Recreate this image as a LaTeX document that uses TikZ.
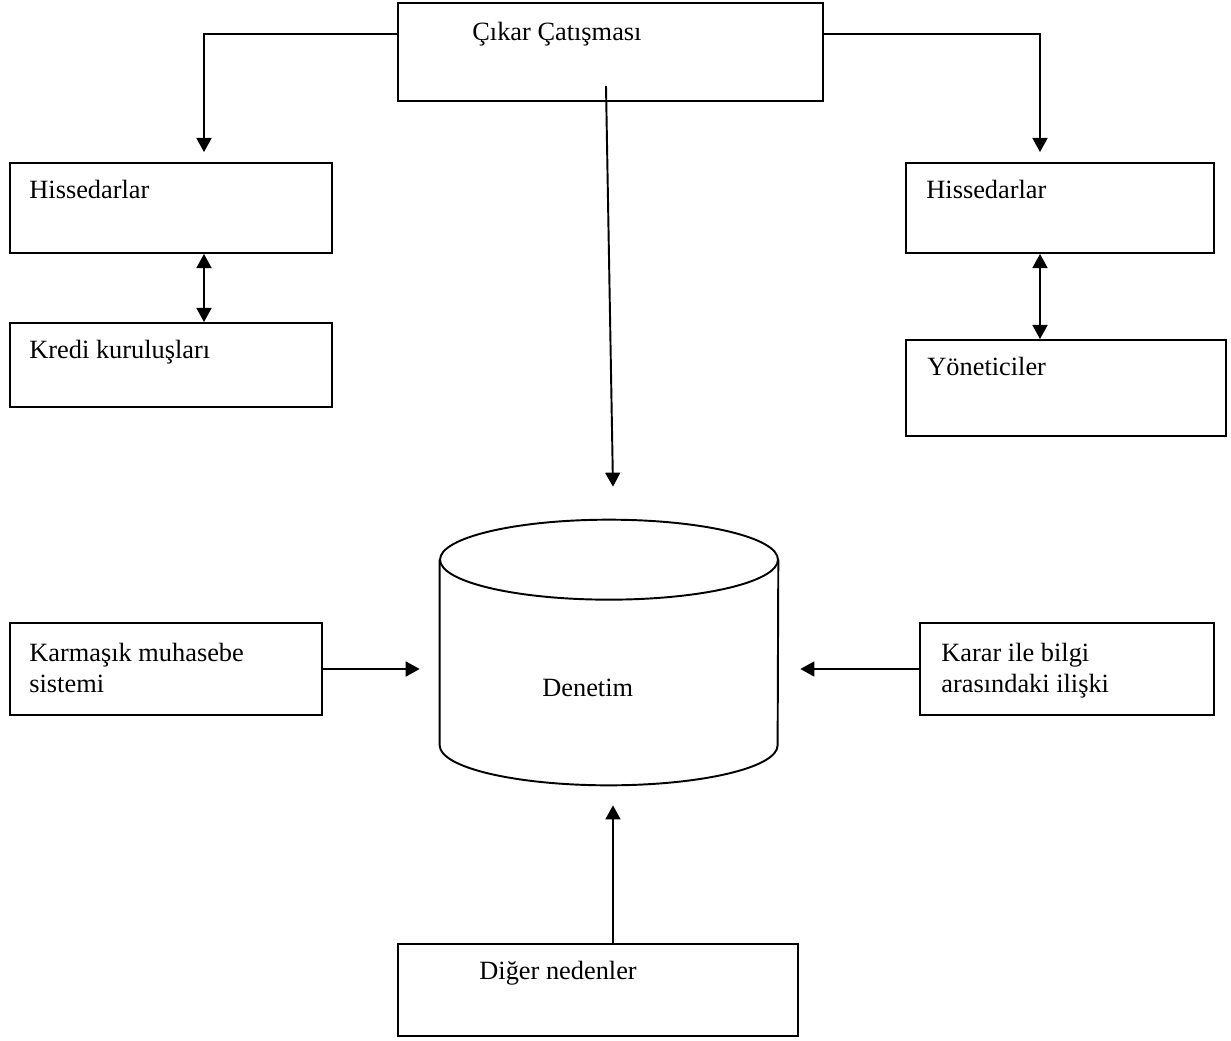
\documentclass[tikz,border=0pt]{standalone}
\usepackage{fontspec}
\setmainfont{Liberation Serif}
\usetikzlibrary{arrows.meta,calc}

\begin{document}
\begin{tikzpicture}[x=0.02cm, y=-0.02cm,
    box/.style={draw, line width=1.1pt, inner sep=0pt},
    txt/.style={anchor=north west, inner sep=0pt, align=left, font=\fontsize{15}{17.6}\selectfont},
    arr/.style={line width=1.1pt, -{Triangle[length=8pt,width=8.5pt]}},
    darr/.style={line width=1.1pt, {Triangle[length=8pt,width=8.5pt]}-{Triangle[length=8pt,width=8.5pt]}}]
    \useasboundingbox (0,0) rectangle (1231,1041);

    % boxes
    \node[box, minimum width=8.5cm, minimum height=1.96cm] (conf) at (610.5,52) {};
    \node[box, minimum width=6.44cm, minimum height=1.8cm] (hisL) at (171,208) {};
    \node[box, minimum width=6.44cm, minimum height=1.68cm] (kredi) at (171,365) {};
    \node[box, minimum width=6.16cm, minimum height=1.8cm] (hisR) at (1060,208) {};
    \node[box, minimum width=6.4cm, minimum height=1.92cm] (yon) at (1066,388) {};
    \node[box, minimum width=6.24cm, minimum height=1.84cm] (muh) at (166,669) {};
    \node[box, minimum width=5.88cm, minimum height=1.84cm] (karar) at (1067,669) {};
    \node[box, minimum width=8cm, minimum height=1.84cm] (diger) at (598,990) {};

    % texts
    \node[txt] (confT) at ([xshift=1.5cm, yshift=-0.4cm]conf.north west) {Çıkar Çatışması};
    \node[txt] (hisLT) at ([xshift=0.4cm, yshift=-0.36cm]hisL.north west) {Hissedarlar};
    \node[txt] (krediT) at ([xshift=0.4cm, yshift=-0.36cm]kredi.north west) {Kredi kuruluşları};
    \node[txt] (hisRT) at ([xshift=0.42cm, yshift=-0.36cm]hisR.north west) {Hissedarlar};
    \node[txt] (yonT) at ([xshift=0.44cm, yshift=-0.36cm]yon.north west) {Yöneticiler};
    \node[txt] (muhT) at ([xshift=0.4cm, yshift=-0.42cm]muh.north west) {Karmaşık muhasebe\\sistemi};
    \node[txt] (kararT) at ([xshift=0.44cm, yshift=-0.42cm]karar.north west) {Karar ile bilgi\\arasındaki ilişki};
    \node[txt] (digerT) at ([xshift=1.64cm, yshift=-0.36cm]diger.north west) {Diğer nedenler};

    % cylinder
    \node[minimum width=6.76cm, minimum height=5.3cm, inner sep=0pt] (den) at (609,652.5) {};
    \draw[line width=1.1pt] ([yshift=-0.8cm]den.north west) -- ([yshift=0.8cm]den.south west)
        arc (180:360:3.38cm and 0.8cm) -- ([yshift=-0.8cm]den.north east);
    \draw[line width=1.1pt] ([yshift=-0.8cm]den.north) ellipse (3.38cm and 0.8cm);
    \node[txt] (denT) at ([xshift=-1.34cm, yshift=-0.53cm]den.center) {Denetim};

    % connectors
    \draw[arr, shorten >=0.2cm] ([yshift=0.36cm]conf.west) -| ([xshift=0.66cm]hisL.north);
    \draw[arr, shorten >=0.2cm] ([yshift=0.36cm]conf.east) -| ([xshift=-0.4cm]hisR.north);
    \draw[darr] ([xshift=0.66cm]hisL.south) -- ([xshift=0.66cm]kredi.north);
    \draw[darr] ([xshift=-0.4cm]hisR.south) -- ([xshift=-0.4cm]hisR.south |- yon.north);
    \draw[arr] ([xshift=-0.09cm, yshift=0.32cm]conf.south) -- ([xshift=0.08cm, yshift=0.66cm]den.north);
    \draw[arr, shorten >=0.4cm] (muh.east) -- (muh.east -| den.west);
    \draw[arr, shorten >=0.44cm] (karar.west) -- (karar.west -| den.east);
    \draw[arr, shorten >=0.4cm] ([xshift=0.3cm]diger.north) -- ([xshift=0.3cm]diger.north |- den.south);

\end{tikzpicture}
\end{document}
